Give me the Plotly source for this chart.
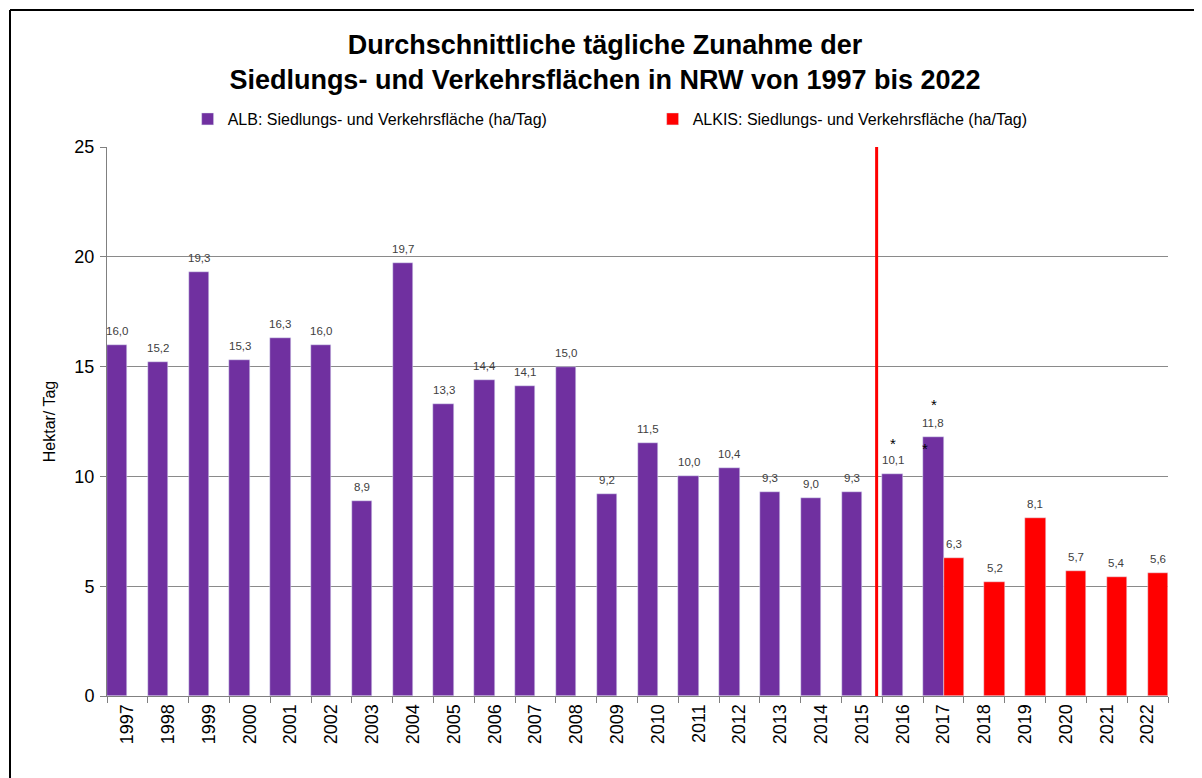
import plotly.graph_objects as go

years = [str(y) for y in range(1997, 2023)]
alb_values = [16.0, 15.2, 19.3, 15.3, 16.3, 16.0, 8.9, 19.7, 13.3, 14.4, 14.1, 15.0,
              9.2, 11.5, 10.0, 10.4, 9.3, 9.0, 9.3, 10.1, 11.8,
              None, None, None, None, None]
alkis_values = [None] * 20 + [6.3, 5.2, 8.1, 5.7, 5.4, 5.6]

alb_name = "ALB: Siedlungs- und Verkehrsfläche (ha/Tag)"
alkis_name = "ALKIS: Siedlungs- und Verkehrsfläche (ha/Tag)"
title = ("<b>Durchschnittliche tägliche Zunahme der<br>"
         "Siedlungs- und Verkehrsflächen in NRW von 1997 bis 2022</b>")

def fmt(v):
    return f"{v:.1f}".replace(".", ",")

FONT = "Liberation Sans, Arial, sans-serif"
PURPLE = "#7030A0"
RED = "#FF0000"

W, H = 1194, 770          # page has an 8px body margin
L, T = 99, 139
PW, PH = 1061, 549
R = W - L - PW
B = H - T - PH
QUARTER = PW / len(years) / 4

fig = go.Figure()
fig.add_trace(go.Bar(x=years, y=alb_values, name=alb_name, marker_color=PURPLE))
fig.add_trace(go.Bar(x=years, y=alkis_values, name=alkis_name, marker_color=RED))

# value labels above the bars
for values, sign in [(alb_values, -1), (alkis_values, 1)]:
    for i, v in enumerate(values):
        if v is None:
            continue
        fig.add_annotation(x=i, y=v, text=fmt(v), showarrow=False,
                           xshift=sign * QUARTER, yshift=14,
                           font=dict(size=11.5, color="#404040", family=FONT))

# vertical separator line (ALB -> ALKIS)
fig.add_shape(type="line", xref="x", yref="paper", x0=18.36, x1=18.36, y0=0, y1=1,
              line=dict(color=RED, width=3))

# asterisks (category index positions)
for idx, val, xs, ys in [(19, 10.1, -10, 31), (20, 11.8, -10, 32), (20, 11.8, -19, -12)]:
    fig.add_annotation(x=idx, y=val, text="*", showarrow=False, xshift=xs, yshift=ys,
                       font=dict(size=15, color="black", family=FONT))

# outer frame (top and left lines) at 2px inside the figure
fx = -(L - 2) / PW
fy = 1 + (T - 2) / PH
fig.add_shape(type="line", xref="paper", yref="paper", x0=fx, x1=(W - L) / PW, y0=fy, y1=fy,
              line=dict(color="black", width=2))
fig.add_shape(type="line", xref="paper", yref="paper", x0=fx, x1=fx, y0=fy, y1=-B / PH,
              line=dict(color="black", width=2))

fig.update_layout(
    width=W, height=H,
    margin=dict(l=L, r=R, t=T, b=B),
    paper_bgcolor="white", plot_bgcolor="white",
    barmode="group", bargap=0, bargroupgap=0,
    font=dict(family=FONT, color="black"),
    title=dict(text=title, x=(605 - 8) / W, xanchor="center", y=0.94, yanchor="top",
               font=dict(size=27, family=FONT, color="black")),
    legend=dict(orientation="h", x=0.076, xanchor="left", y=1.051, yanchor="middle",
                font=dict(size=16, family=FONT), entrywidth=420, entrywidthmode="pixels",
                itemwidth=30, traceorder="normal"),
    showlegend=True,
)
fig.update_xaxes(type="category", range=[-0.5, 25.5], showline=True, linecolor="#808080",
                 linewidth=1, ticks="outside", tickson="boundaries", ticklen=6,
                 tickcolor="#808080", tickangle=-90, tickfont=dict(size=18, family=FONT),
                 showgrid=False)
fig.update_yaxes(range=[0, 25], dtick=5, showline=True, linecolor="#808080", linewidth=1,
                 ticks="outside", ticklen=6, tickcolor="#808080",
                 showgrid=True, gridcolor="#8a8a8a", gridwidth=1,
                 tickfont=dict(size=18, family=FONT), ticklabelstandoff=2,
                 title=dict(text="Hektar/ Tag", font=dict(size=16, family=FONT), standoff=14),
                 zeroline=False)

fig.write_html("out.html")
